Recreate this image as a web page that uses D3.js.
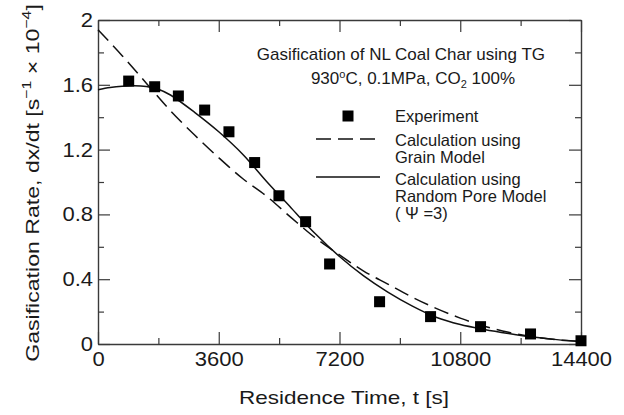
<!DOCTYPE html>
<html>
<head>
<meta charset="utf-8">
<script src="https://cdn.jsdelivr.net/npm/d3@7"></script>
<style>
  html, body { margin: 0; padding: 0; background: #fff; }
  svg { display: block; }
  text { font-family: "Liberation Sans", Arial, Helvetica, sans-serif; fill: #1a1a1a; }
</style>
</head>
<body>
<svg id="chart" width="624" height="415"></svg>
<script>
// ---------------- data ----------------
const expTime = [915, 1690, 2396, 3180, 3904, 4670, 5394, 6190, 6905, 8395, 9915, 11405, 12895, 14400];
const expRate = [1.623, 1.588, 1.531, 1.444, 1.31, 1.12, 0.915, 0.755, 0.494, 0.261, 0.169, 0.107, 0.062, 0.02];

const grainTime = [0, 720, 1440, 2160, 2880, 3600, 4320, 5040, 5760, 6480, 7200, 7920, 8640, 9360, 10080, 10800, 11520, 12240, 12960, 13680, 14400];
const grainRate = [1.94, 1.78, 1.61, 1.44, 1.29, 1.15, 1.02, 0.91, 0.78, 0.655, 0.55, 0.45, 0.37, 0.29, 0.22, 0.16, 0.11, 0.072, 0.045, 0.026, 0.015];

const rpmTime = [0, 360, 720, 1080, 1440, 1800, 2160, 2880, 3600, 4320, 5040, 5760, 6480, 7200, 7920, 8640, 9360, 10080, 10800, 11520, 12240, 12960, 13680, 14400];
const rpmRate = [1.57, 1.583, 1.591, 1.594, 1.589, 1.573, 1.537, 1.43, 1.31, 1.17, 1.0, 0.84, 0.68, 0.54, 0.42, 0.32, 0.235, 0.165, 0.12, 0.09, 0.065, 0.043, 0.027, 0.016];

const xMajorTicks = [0, 3600, 7200, 10800, 14400];
const xMinorTicks = [1800, 5400, 9000, 12600];
const yMajorTicks = [0, 0.4, 0.8, 1.2, 1.6, 2];
const yTickLabels = ["0", "0.4", "0.8", "1.2", "1.6", "2"];
const yMinorTicks = [0.2, 0.6, 1.0, 1.4, 1.8];

const legendLabels = [["Experiment"], ["Calculation using", "Grain Model"], ["Calculation using", "Random Pore Model", "( \u03A8 =3)"]];

// ---------------- layout ----------------
const W = 624, H = 415;
const M = { left: 98, top: 20, right: 43, bottom: 71 };
const svg = d3.select("#chart");

const x = d3.scaleLinear().domain([0, 14400]).range([M.left, W - M.right]);
const y = d3.scaleLinear().domain([0, 2]).range([H - M.bottom, M.top]);

const axisColor = "#3a3a3a";
const TICK_MAJ = 12, TICK_MIN = 6;
const TICK_SX = 1.1;   // tick labels are drawn slightly wide in the reference

function styleAxis(g) {
  g.selectAll("path.domain").attr("stroke", axisColor).attr("stroke-width", 1.4);
  g.selectAll(".tick line").attr("stroke", axisColor).attr("stroke-width", 1.2);
  g.selectAll(".tick text").attr("fill", "#1a1a1a")
    .style("font-family", '"Liberation Sans", Arial, sans-serif').style("font-size", "20px");
}

// bottom axis
svg.append("g").attr("transform", `translate(0,${y(0)})`)
  .call(d3.axisBottom(x).tickValues(xMajorTicks).tickFormat(d3.format("d"))
    .tickSizeInner(-TICK_MAJ).tickSizeOuter(0).tickPadding(8))
  .call(styleAxis)
  .call(g => g.selectAll(".tick text").attr("transform", `scale(${TICK_SX},1)`));
svg.append("g").attr("transform", `translate(0,${y(0)})`)
  .call(d3.axisBottom(x).tickValues(xMinorTicks).tickFormat("")
    .tickSizeInner(-TICK_MIN).tickSizeOuter(0))
  .call(styleAxis).call(g => g.select(".domain").remove());

// top axis
svg.append("g").attr("transform", `translate(0,${y(2)})`)
  .call(d3.axisTop(x).tickValues(xMajorTicks).tickFormat("")
    .tickSizeInner(-TICK_MAJ).tickSizeOuter(0))
  .call(styleAxis);
svg.append("g").attr("transform", `translate(0,${y(2)})`)
  .call(d3.axisTop(x).tickValues(xMinorTicks).tickFormat("")
    .tickSizeInner(-TICK_MIN).tickSizeOuter(0))
  .call(styleAxis).call(g => g.select(".domain").remove());

// left axis
svg.append("g").attr("transform", `translate(${x(0)},0)`)
  .call(d3.axisLeft(y).tickValues(yMajorTicks).tickFormat((d, i) => yTickLabels[i])
    .tickSizeInner(-TICK_MAJ).tickSizeOuter(0).tickPadding(5))
  .call(styleAxis)
  .call(g => g.selectAll(".tick text").attr("x", -5 / TICK_SX).attr("transform", `scale(${TICK_SX},1)`));
svg.append("g").attr("transform", `translate(${x(0)},0)`)
  .call(d3.axisLeft(y).tickValues(yMinorTicks).tickFormat("")
    .tickSizeInner(-TICK_MIN).tickSizeOuter(0))
  .call(styleAxis).call(g => g.select(".domain").remove());

// right axis
svg.append("g").attr("transform", `translate(${x(14400)},0)`)
  .call(d3.axisRight(y).tickValues(yMajorTicks).tickFormat("")
    .tickSizeInner(-TICK_MAJ).tickSizeOuter(0))
  .call(styleAxis);
svg.append("g").attr("transform", `translate(${x(14400)},0)`)
  .call(d3.axisRight(y).tickValues(yMinorTicks).tickFormat("")
    .tickSizeInner(-TICK_MIN).tickSizeOuter(0))
  .call(styleAxis).call(g => g.select(".domain").remove());

// ---------------- curves ----------------
const grainData = grainTime.map((t, i) => ({ t, v: grainRate[i] }));
const rpmData = rpmTime.map((t, i) => ({ t, v: rpmRate[i] }));
const line = d3.line().x(d => x(d.t)).y(d => y(d.v)).curve(d3.curveCatmullRom.alpha(0.5));

svg.append("path").datum(grainData).attr("d", line)
  .attr("fill", "none").attr("stroke", "#111").attr("stroke-width", 1.5)
  .attr("stroke-dasharray", "15,7");
svg.append("path").datum(rpmData).attr("d", line)
  .attr("fill", "none").attr("stroke", "#111").attr("stroke-width", 1.5);

// experimental points
const SQ = 11;
svg.append("g").selectAll("rect").data(expTime.map((t, i) => ({ t, v: expRate[i] })))
  .join("rect")
  .attr("x", d => x(d.t) - SQ / 2).attr("y", d => y(d.v) - SQ / 2)
  .attr("width", SQ).attr("height", SQ).attr("fill", "#000");

// ---------------- annotation ----------------
const ann = svg.append("g").style("font-size", "17px");
ann.append("text").attr("x", 545).attr("y", 60).attr("text-anchor", "end")
  .text("Gasification of NL Coal Char using TG");
const l2 = ann.append("text").attr("x", 515).attr("y", 84).attr("text-anchor", "end");
l2.append("tspan").text("930");
l2.append("tspan").attr("dy", -6).style("font-size", "11px").text("o");
l2.append("tspan").attr("dy", 6).text("C, 0.1MPa, CO");
l2.append("tspan").attr("dy", 4).style("font-size", "11px").text("2");
l2.append("tspan").attr("dy", -4).text(" 100%");

// ---------------- legend ----------------
const leg = svg.append("g").style("font-size", "16.5px");
leg.append("rect").attr("x", 348 - SQ / 2).attr("y", 116 - SQ / 2).attr("width", SQ).attr("height", SQ).attr("fill", "#000");
leg.append("line").attr("x1", 316).attr("x2", 380).attr("y1", 139).attr("y2", 139)
  .attr("stroke", "#111").attr("stroke-width", 1.5).attr("stroke-dasharray", "15,7");
leg.append("line").attr("x1", 316).attr("x2", 380).attr("y1", 177).attr("y2", 177)
  .attr("stroke", "#111").attr("stroke-width", 1.5);
const legBase = [[122], [146, 163], [185, 202, 219]];
legendLabels.forEach((lines, i) => {
  lines.forEach((s, j) => {
    leg.append("text").attr("x", 395).attr("y", legBase[i][j]).text(s);
  });
});

// ---------------- axis titles ----------------
const xt = svg.append("text")
  .attr("text-anchor", "middle").style("font-size", "19px")
  .text("Residence Time, t [s]");
const xtLen = xt.node().getComputedTextLength();
xt.attr("transform", `translate(344,404) scale(${210 / xtLen},1)`);

const yl = svg.append("text")
  .attr("text-anchor", "middle").style("font-size", "19px");
yl.append("tspan").text("Gasification Rate, dx/dt [s");
yl.append("tspan").attr("dy", -8).style("font-size", "13px").text("\u22121");
yl.append("tspan").attr("dy", 8).text("  \u00D7 10");
yl.append("tspan").attr("dy", -8).style("font-size", "13px").text("\u22124");
yl.append("tspan").attr("dy", 8).text("]");
const ylLen = yl.node().getComputedTextLength();
yl.attr("transform", `translate(39,183) rotate(-90) scale(${358 / ylLen},1)`);
</script>
</body>
</html>
